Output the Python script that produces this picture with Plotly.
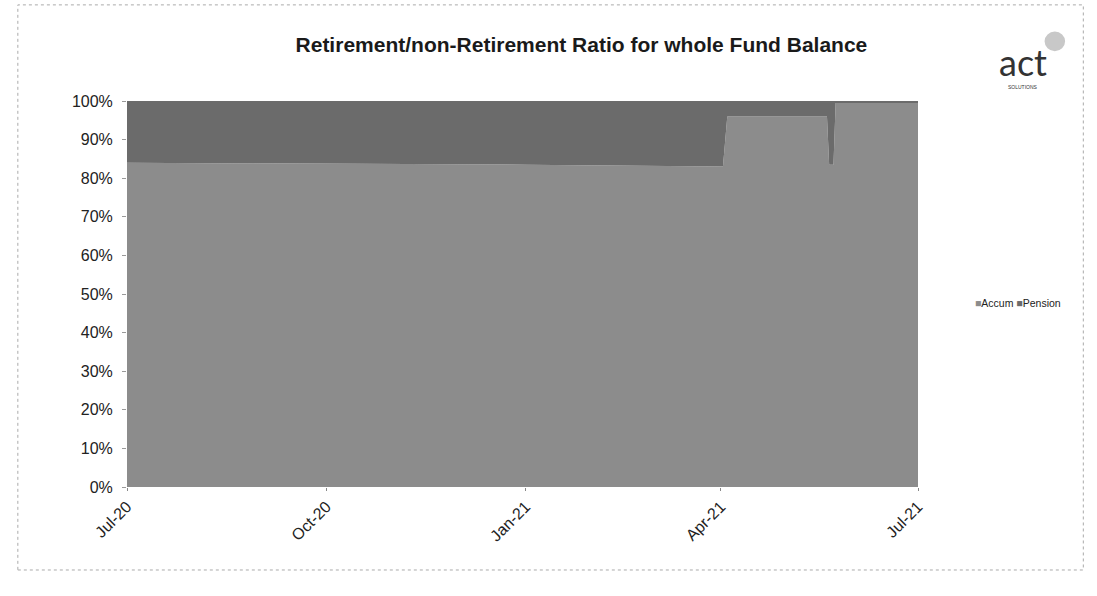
import plotly.graph_objects as go

# Fund balance split between accumulation and pension phases (% of total)
dates = ["2020-07-01", "2021-01-01", "2021-04-02", "2021-04-04", "2021-05-20",
         "2021-05-21", "2021-05-23", "2021-05-24", "2021-07-01"]
accum = [84.0, 83.5, 83.0, 96.0, 96.0, 83.5, 83.5, 99.5, 99.5]
pension = [16.0, 16.5, 17.0, 4.0, 4.0, 16.5, 16.5, 0.5, 0.5]

tick_dates = ["2020-07-01", "2020-10-01", "2021-01-01", "2021-04-01", "2021-07-01"]
tick_labels = ["Jul-20", "Oct-20", "Jan-21", "Apr-21", "Jul-21"]
y_ticks = list(range(0, 101, 10))
y_labels = [f"{v}%" for v in y_ticks]

FONT = "Liberation Sans, Arial, sans-serif"
ACCUM_COLOR = "#8c8c8c"
PENSION_COLOR = "#6b6b6b"
series = [("Accum", accum, ACCUM_COLOR), ("Pension", pension, PENSION_COLOR)]

fig = go.Figure()
for name, values, color in series:
    fig.add_trace(go.Scatter(
        x=dates, y=values, name=name, stackgroup="one", mode="none",
        fillcolor=color, line=dict(width=0)))

fig.update_layout(
    width=1097, height=596,
    margin=dict(l=127, r=179, t=101, b=109),
    paper_bgcolor="white", plot_bgcolor="white",
    font=dict(family=FONT, color="#222"),
    title=dict(text="<b>Retirement/non-Retirement Ratio for whole Fund Balance</b>",
               x=0.53, xanchor="center", y=0.925, yanchor="middle",
               font=dict(size=21, family=FONT, color="#1a1a1a")),
    showlegend=False,
    xaxis=dict(type="date", range=["2020-07-01", "2021-07-01"],
               tickmode="array", tickvals=tick_dates, ticktext=tick_labels,
               tickangle=-45, tickfont=dict(size=16, family=FONT, color="#222"),
               ticks="outside", ticklen=3, tickcolor="#888",
               showgrid=False, zeroline=False, showline=False),
    yaxis=dict(range=[0, 100], tickmode="array", tickvals=y_ticks, ticktext=y_labels,
               tickfont=dict(size=16, family=FONT, color="#222"),
               ticks="outside", ticklen=4, tickcolor="#999", ticklabelstandoff=6,
               showgrid=False, zeroline=False, showline=False),
)

# compact legend drawn as a single text line with coloured swatches
legend_text = " ".join(
    f'<span style="color:{color}">■</span>{name}' for name, _, color in series)
fig.add_annotation(text=legend_text, xref="paper", yref="paper", x=1.07, y=0.477,
                   xanchor="left", yanchor="middle", showarrow=False,
                   font=dict(size=10.5, family=FONT, color="#222"))

# chart frame
fig.add_shape(type="rect", xref="paper", yref="paper",
              x0=-0.138, x1=1.209, y0=-0.215, y1=1.249,
              line=dict(color="#aaaaaa", width=1, dash="dot"))

# company logo
fig.add_shape(type="circle", xref="paper", yref="paper",
              x0=1.160, x1=1.186, y0=1.129, y1=1.18,
              fillcolor="#c8c8c8", line=dict(width=0))
fig.add_annotation(text="act", xref="paper", yref="paper", x=1.133, y=1.100,
                   showarrow=False,
                   font=dict(size=36, family="Lato, sans-serif", color="#333"),
                   xanchor="center", yanchor="middle")
fig.add_annotation(text="SOLUTIONS", xref="paper", yref="paper", x=1.133, y=1.037,
                   showarrow=False, font=dict(size=5, family=FONT, color="#333"),
                   xanchor="center", yanchor="middle")

fig.write_html("out.html")
